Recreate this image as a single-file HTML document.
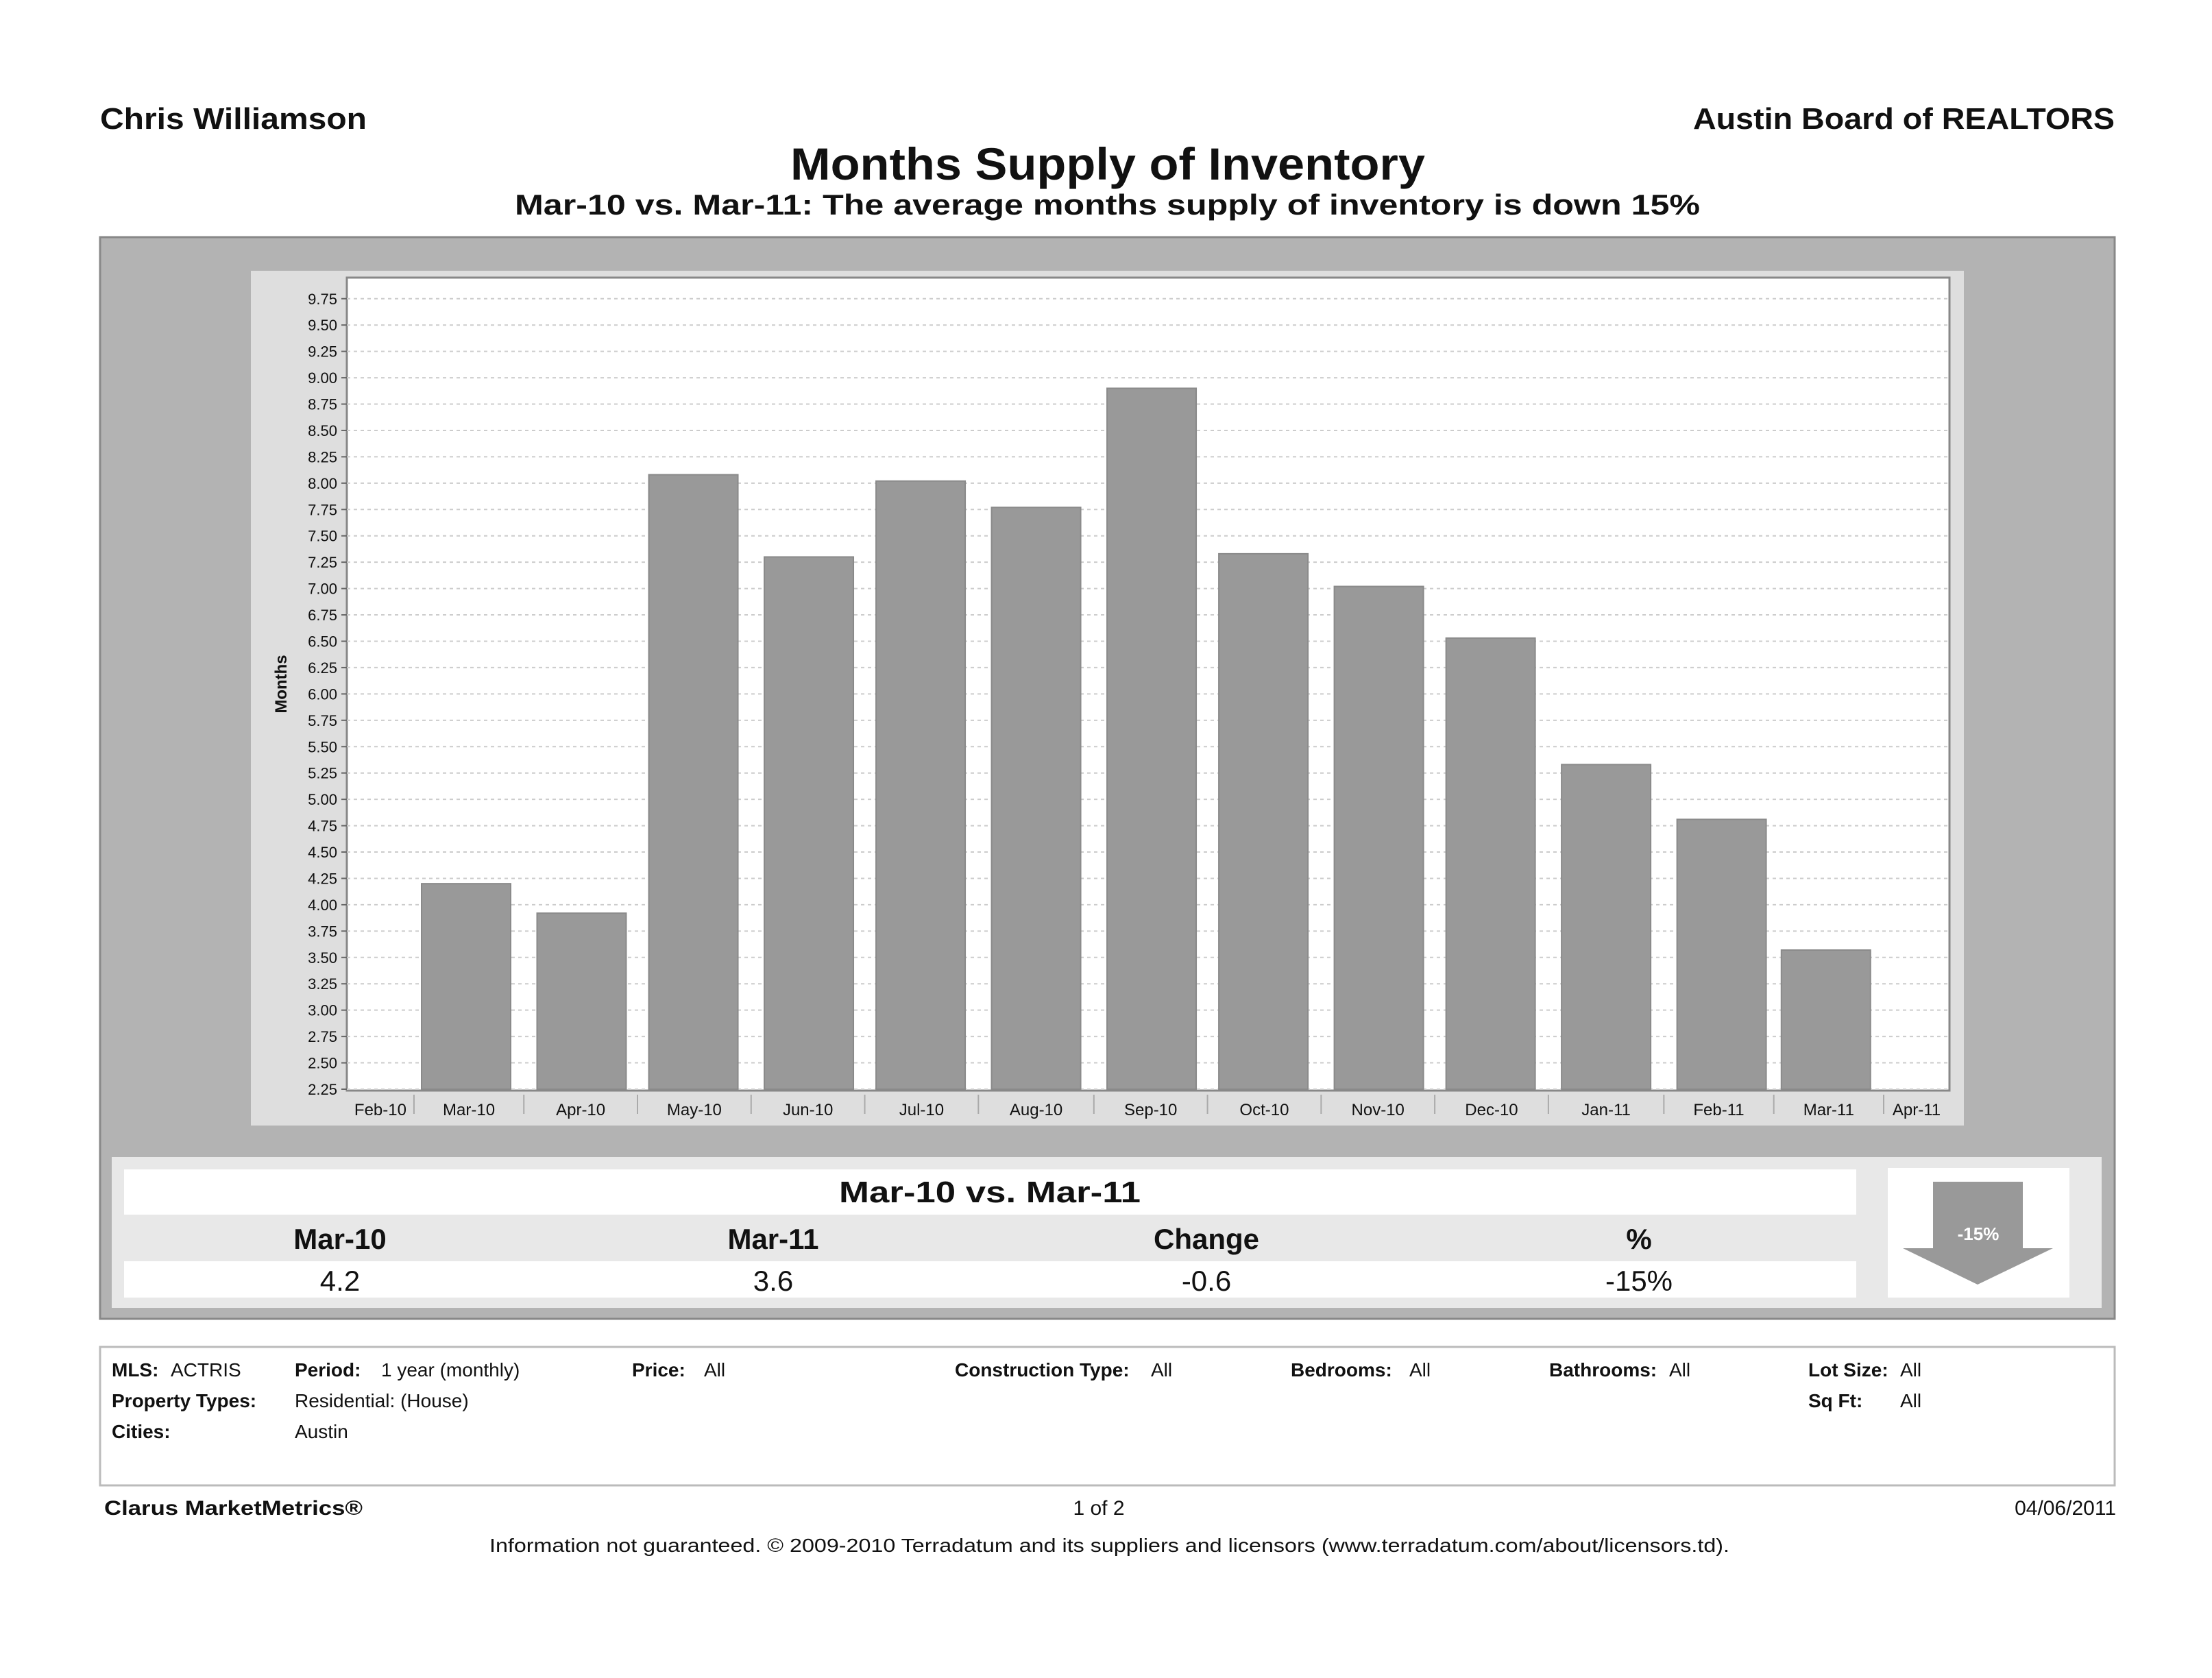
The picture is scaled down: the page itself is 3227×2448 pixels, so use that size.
<!DOCTYPE html>
<html><head><meta charset="utf-8"><style>
html,body{margin:0;padding:0;background:#fff;}
svg{display:block;font-family:"Liberation Sans",sans-serif;}
</style></head><body>
<svg id="s" width="3227" height="2448" viewBox="0 0 3227 2448" xmlns="http://www.w3.org/2000/svg">
<text x="146" y="188" font-size="44" font-weight="bold" fill="#111" textLength="389" lengthAdjust="spacingAndGlyphs">Chris Williamson</text>
<text x="2470" y="188" font-size="44" font-weight="bold" fill="#111" textLength="615" lengthAdjust="spacingAndGlyphs">Austin Board of REALTORS</text>
<text x="1153" y="262" font-size="66" font-weight="bold" fill="#111" textLength="926" lengthAdjust="spacingAndGlyphs">Months Supply of Inventory</text>
<text x="751" y="313" font-size="42" font-weight="bold" fill="#111" textLength="1729" lengthAdjust="spacingAndGlyphs">Mar-10 vs. Mar-11:  The average months supply of inventory is down 15%</text>
<rect x="146" y="346" width="2939" height="1578" fill="#b3b3b3" stroke="#888" stroke-width="3"/>
<rect x="366" y="395" width="2499" height="1247" fill="#dedede"/>
<rect x="506" y="405" width="2338" height="1186" fill="#fff" stroke="#888" stroke-width="3"/>
<g id="grid"></g><g id="bars"></g><g id="yticks"></g><g id="xticks"></g>
<text transform="translate(418,998) rotate(-90)" font-size="24" font-weight="bold" text-anchor="middle" fill="#111">Months</text>

<rect x="163" y="1688" width="2903" height="220" fill="#e8e8e8"/>
<rect x="181" y="1706" width="2527" height="66" fill="#fff"/>
<text x="1224" y="1754" font-size="44" font-weight="bold" fill="#111" textLength="440" lengthAdjust="spacingAndGlyphs">Mar-10 vs. Mar-11</text>
<text x="496" y="1822" font-size="42" font-weight="bold" text-anchor="middle" fill="#111">Mar-10</text>
<text x="1128" y="1822" font-size="42" font-weight="bold" text-anchor="middle" fill="#111">Mar-11</text>
<text x="1760" y="1822" font-size="42" font-weight="bold" text-anchor="middle" fill="#111">Change</text>
<text x="2391" y="1822" font-size="42" font-weight="bold" text-anchor="middle" fill="#111">%</text>
<rect x="181" y="1840" width="2527" height="53" fill="#fff"/>
<text x="496" y="1883" font-size="42" text-anchor="middle" fill="#111">4.2</text>
<text x="1128" y="1883" font-size="42" text-anchor="middle" fill="#111">3.6</text>
<text x="1760" y="1883" font-size="42" text-anchor="middle" fill="#111">-0.6</text>
<text x="2391" y="1883" font-size="42" text-anchor="middle" fill="#111">-15%</text>
<rect x="2754" y="1704" width="265" height="189" fill="#fff"/>
<polygon points="2820,1724 2951,1724 2951,1821 2995,1821 2885,1874 2776,1821 2820,1821" fill="#999"/>
<text x="2886" y="1809" font-size="26" font-weight="bold" text-anchor="middle" fill="#fff">-15%</text>

<rect x="146" y="1965" width="2939" height="202" fill="#fff" stroke="#bbb" stroke-width="3"/>
<g font-size="28" fill="#111">
<text x="163" y="2008" font-weight="bold">MLS:</text><text x="249" y="2008">ACTRIS</text>
<text x="430" y="2008" font-weight="bold">Period:</text><text x="556" y="2008">1 year (monthly)</text>
<text x="922" y="2008" font-weight="bold">Price:</text><text x="1027" y="2008">All</text>
<text x="1393" y="2008" font-weight="bold">Construction Type:</text><text x="1679" y="2008">All</text>
<text x="1883" y="2008" font-weight="bold">Bedrooms:</text><text x="2056" y="2008">All</text>
<text x="2260" y="2008" font-weight="bold">Bathrooms:</text><text x="2435" y="2008">All</text>
<text x="2638" y="2008" font-weight="bold">Lot Size:</text><text x="2772" y="2008">All</text>
<text x="163" y="2053" font-weight="bold">Property Types:</text><text x="430" y="2053">Residential: (House)</text>
<text x="2638" y="2053" font-weight="bold">Sq Ft:</text><text x="2772" y="2053">All</text>
<text x="163" y="2098" font-weight="bold">Cities:</text><text x="430" y="2098">Austin</text>
</g>
<text x="152" y="2210" font-size="30" font-weight="bold" fill="#111" textLength="377" lengthAdjust="spacingAndGlyphs">Clarus MarketMetrics®</text>
<text x="1603" y="2210" font-size="30" text-anchor="middle" fill="#111">1 of 2</text>
<text x="3087" y="2210" font-size="30" text-anchor="end" fill="#111">04/06/2011</text>
<text x="714" y="2264" font-size="28" fill="#111" textLength="1809" lengthAdjust="spacingAndGlyphs">Information not guaranteed.  © 2009-2010 Terradatum and its suppliers and licensors (www.terradatum.com/about/licensors.td).</text>
</svg>
<script>
const categories=["Feb-10","Mar-10","Apr-10","May-10","Jun-10","Jul-10","Aug-10","Sep-10","Oct-10","Nov-10","Dec-10","Jan-11","Feb-11","Mar-11","Apr-11"];
const values=[null,4.2,3.92,8.08,7.3,8.02,7.77,8.9,7.33,7.02,6.53,5.33,4.81,3.57,null];
const yTicks=["2.25","2.50","2.75","3.00","3.25","3.50","3.75","4.00","4.25","4.50","4.75","5.00","5.25","5.50","5.75","6.00","6.25","6.50","6.75","7.00","7.25","7.50","7.75","8.00","8.25","8.50","8.75","9.00","9.25","9.50","9.75"];
const NS="http://www.w3.org/2000/svg";
const L=506,R=2844,T=405,B=1589,ymin=2.25,ymax=9.95;
const x1=680,pxPerDay=5.435,bw=130;
const MON={Jan:0,Feb:1,Mar:2,Apr:3,May:4,Jun:5,Jul:6,Aug:7,Sep:8,Oct:9,Nov:10,Dec:11};
function y(v){return B-(v-ymin)/(ymax-ymin)*(B-T);}
function xc(i){const [m,yy]=categories[i].split('-');const d=(Date.UTC(2000+ +yy,MON[m],1)-Date.UTC(2010,2,1))/864e5;return x1+d*pxPerDay;}
function mk(t,a,p){const e=document.createElementNS(NS,t);for(const k in a)e.setAttribute(k,a[k]);p.appendChild(e);return e;}
const grid=document.getElementById('grid'),bars=document.getElementById('bars'),yt=document.getElementById('yticks'),xt=document.getElementById('xticks');
yTicks.forEach(t=>{const v=parseFloat(t),yy=y(v);
 const g=mk('line',{x1:L,x2:R,y1:yy,y2:yy,stroke:'#ccc','stroke-width':2,'stroke-dasharray':'5 5'},grid);
 
 
 const tk=mk('line',{x1:L-8,x2:L,y1:yy,y2:yy,stroke:'#666','stroke-width':2},yt);
 
 
 const tx=mk('text',{x:L-14,y:yy+8,'font-size':22,'text-anchor':'end',fill:'#111'},yt);tx.textContent=t;
 
 
});
values.forEach((v,i)=>{if(v==null)return;
 const r=mk('rect',{x:xc(i)-bw/2,y:y(v),width:bw,height:B-y(v),fill:'#999',stroke:'#8a8a8a','stroke-width':2},bars);
 
 
});
const n=categories.length;
categories.forEach((c,i)=>{
 const a=i>0?Math.max(L,(xc(i-1)+xc(i))/2):L;
 const b=i<n-1?Math.min(R,(xc(i)+xc(i+1))/2):R;
 if(i<n-1){const d=mk('line',{x1:b,x2:b,y1:B+8,y2:B+36,stroke:'#aaa','stroke-width':2},xt);
  
  }
 const tx=mk('text',{x:(a+b)/2,y:B+38,'font-size':24,'text-anchor':'middle',fill:'#111'},xt);tx.textContent=c;
 
 
});
</script>
</body></html>
